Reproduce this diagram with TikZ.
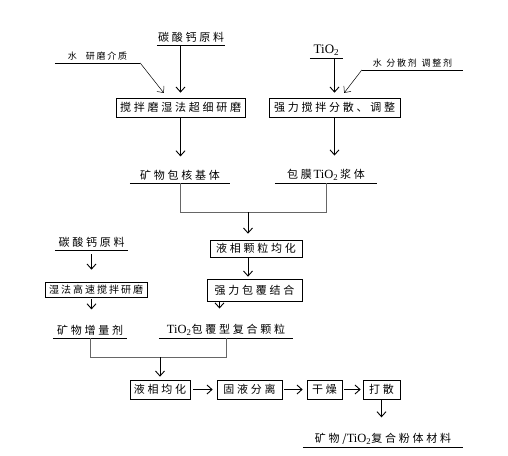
\documentclass[tikz,border=0pt]{standalone}
\usepackage{fontspec}
\setmainfont{Liberation Serif}
\newfontfamily\cjk{Noto Sans CJK SC}[LetterSpace=25]
\newfontfamily\cjksmall{Noto Sans CJK SC}[LetterSpace=20]
\newfontfamily\lat{Liberation Serif}
\usetikzlibrary{arrows.meta}

\tikzset{
	box/.style={draw, line width=0.7pt, inner xsep=2pt, inner ysep=2pt, font=\cjk\fontsize{11}{12}\selectfont},
	ul/.style={anchor=south, inner xsep=0pt, inner ysep=2.5pt, font=\cjk\fontsize{11}{12}\selectfont},
	note/.style={anchor=south, inner xsep=0pt, inner ysep=3pt, font=\cjksmall\fontsize{9}{10}\selectfont},
	arr/.style={-{Straight Barb[length=5pt,width=9pt]}, line width=0.9pt},
	thinarr/.style={-{Straight Barb[length=5pt,width=9pt]}, line width=0.5pt},
	joinline/.style={line width=0.5pt, gray!80!black}
}

\begin{document}
\begin{tikzpicture}[x=1pt,y=-1pt]
	\useasboundingbox (0,0) rectangle (508,455);
	%left branch, top
	\node[ul, minimum width=68pt] (caco1) at (191,45) {碳酸钙原料};
	\node[note, minimum width=85pt] (aux1) at (97.5,63) {水\quad 研磨介质};
	\node[box, minimum width=129pt, minimum height=19pt] (mill) at (180.5,107.5) {搅拌磨湿法超细研磨};
	\node[ul, minimum width=100pt] (core) at (180,183) {矿物包核基体};
	%right branch, top
	\node[ul, minimum width=33pt, font=\lat\fontsize{13}{14}\selectfont] (tio) at (326.5,58) {TiO\textsubscript{2}};
	\node[note, minimum width=101pt] (aux2) at (412.5,70) {水\enspace 分散剂\enspace 调整剂};
	\node[box, minimum width=131pt, minimum height=19pt] (disp) at (334.5,107.5) {强力搅拌分散、调整};
	\node[ul, minimum width=102pt] (slurry) at (326,183) {包膜\,{\lat\fontsize{12.5}{13}\selectfont TiO\textsubscript{2}}\,浆体};
	%middle
	\coordinate (j1) at (248,212);
	\node[box, minimum width=92pt, minimum height=17pt] (homog) at (256,248.5) {液相颗粒均化};
	\node[box, minimum width=95pt, minimum height=22pt] (bond) at (254.5,290) {强力包覆结合};
	\node[ul, minimum width=134pt] (tiocp) at (226,338) {{\lat\fontsize{12.5}{13}\selectfont TiO\textsubscript{2}}包覆型复合颗粒};
	%left branch, bottom
	\node[ul, minimum width=73pt] (caco2) at (91.5,250) {碳酸钙原料};
	\node[box, minimum width=102pt, minimum height=15pt, font=\cjksmall\fontsize{10}{11}\selectfont] (wetmill) at (96,289.5) {湿法高速搅拌研磨};
	\node[ul, minimum width=74pt] (ext) at (90,338) {矿物增量剂};
	%bottom row
	\coordinate (j2) at (160,357);
	\node[box, minimum width=60pt, minimum height=19pt] (lh) at (160,389.5) {液相均化};
	\node[box, minimum width=65pt, minimum height=19pt] (sep) at (249.5,389.5) {固液分离};
	\node[box, minimum width=35pt, minimum height=19pt] (dry) at (324.5,389.5) {干燥};
	\node[box, minimum width=37pt, minimum height=19pt] (brk) at (381.5,389.5) {打散};
	\node[ul, minimum width=160pt] (prod) at (383,447) {矿物/{\lat\fontsize{12.5}{13}\selectfont TiO\textsubscript{2}}复合粉体材料};

	%underlines
	\foreach \n in {caco1,aux1,core,tio,aux2,slurry,tiocp,caco2,ext,prod}
		\draw[line width=0.5pt] (\n.south west) -- (\n.south east);

	%arrows
	\draw[arr, shorten >=5pt] (caco1.south -| mill.north) -- (mill.north);
	\draw[thinarr, shorten >=6pt] (aux1.south east) -- ([xshift=-13pt]mill.north);
	\draw[arr, shorten >=11pt] (mill.south) -- (mill.south |- core.north);
	\draw[arr, shorten >=5pt] (tio.south -| disp.north) -- (disp.north);
	\draw[thinarr, shorten >=6pt] (aux2.south west) -- ([xshift=6pt]disp.north);
	\draw[arr, shorten >=11pt] (disp.south) -- (disp.south |- slurry.north);
	\draw[joinline] (core.south) -- (core.south |- j1) -- (slurry.south |- j1) -- (slurry.south);
	\draw[arr, shorten >=6pt] (j1) -- (j1 |- homog.north);
	\draw[arr, shorten >=2pt] (j1 |- homog.south) -- (j1 |- bond.north);
	\draw[arr, shorten >=13pt] ([xshift=-35pt]bond.south) -- ([xshift=-35pt]bond.south |- tiocp.north);
	\draw[arr, shorten >=12pt, shorten <=4pt] (caco2.south) -- (caco2.south |- wetmill.north);
	\draw[arr, shorten >=13pt, shorten <=2pt] (wetmill.south -| caco2.south) -- (caco2.south |- ext.north);
	\draw[joinline] (ext.south) -- (ext.south |- j2) -- (tiocp.south |- j2) -- (tiocp.south);
	\draw[arr, shorten >=3pt] (j2) -- (lh.north);
	\draw[arr, shorten >=4pt, shorten <=3pt] (lh) -- (sep);
	\draw[arr, shorten >=4pt, shorten <=2pt] (sep) -- (dry);
	\draw[arr, shorten >=2pt, shorten <=2pt] (dry) -- (brk);
	\draw[arr, shorten >=13pt] (brk.south) -- (brk.south |- prod.north);
\end{tikzpicture}
\end{document}
